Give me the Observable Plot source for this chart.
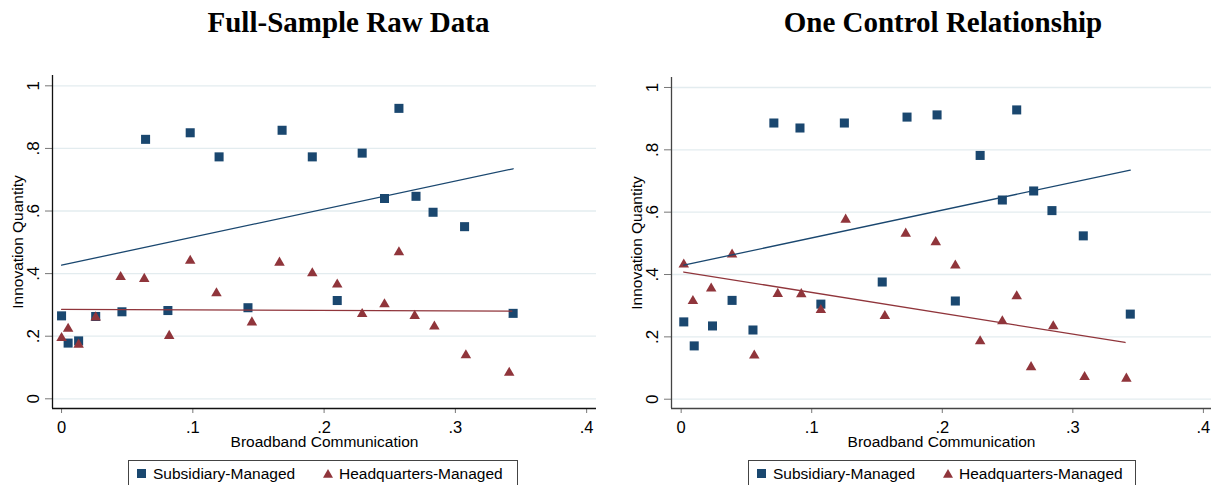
<!DOCTYPE html>
<html>
<head>
<meta charset="utf-8">
<script src="https://cdn.jsdelivr.net/npm/d3@7"></script>
<script src="https://cdn.jsdelivr.net/npm/@observablehq/plot@0.6"></script>
<style>
  html, body { margin: 0; padding: 0; background: #fff; }
  body { width: 1212px; height: 485px; overflow: hidden; position: relative; font-family: "Liberation Sans", Arial, sans-serif; }
  .panel { position: absolute; top: 0; }
  .title { position: absolute; top: 8px; width: 400px; text-align: center; font-family: "Liberation Serif", "Times New Roman", serif; font-weight: bold; font-size: 29px; line-height: 29px; color: #000; white-space: nowrap; }
  .legend { position: absolute; top: 460px; height: 40px; border: 1px solid #444; box-sizing: border-box; background: #fff; }
  .legend .lab { position: absolute; top: 5px; font-size: 15.5px; line-height: 15.5px; color: #000; white-space: nowrap; }
  .legend svg { position: absolute; overflow: visible; }
</style>
</head>
<body>
<div id="app"></div>
<script>
// ---------- shared labels ----------
const panelTitles = ["Full-Sample Raw Data", "One Control Relationship"];
const seriesNames = ["Subsidiary-Managed", "Headquarters-Managed"];
const xAxisTitle = "Broadband Communication";
const yAxisTitle = "Innovation Quantity";
const yTicks = [0, 0.2, 0.4, 0.6, 0.8, 1];
const yTickLabels = ["0", ".2", ".4", ".6", ".8", "1"];
const xTicks = [0, 0.1, 0.2, 0.3, 0.4];
const xTickLabels = ["0", ".1", ".2", ".3", ".4"];

// ---------- panel 1: Full-Sample Raw Data ----------
const rawSubX = [0.000, 0.005, 0.013, 0.026, 0.046, 0.064, 0.081, 0.098, 0.120, 0.142, 0.168, 0.191, 0.210, 0.229, 0.246, 0.257, 0.270, 0.283, 0.307, 0.344];
const rawSubY = [0.265, 0.178, 0.185, 0.263, 0.278, 0.829, 0.282, 0.850, 0.773, 0.291, 0.858, 0.773, 0.314, 0.785, 0.640, 0.928, 0.647, 0.596, 0.550, 0.273];
const rawHqX  = [0.000, 0.005, 0.013, 0.026, 0.045, 0.063, 0.082, 0.098, 0.118, 0.145, 0.166, 0.191, 0.210, 0.229, 0.246, 0.257, 0.269, 0.284, 0.308, 0.341];
const rawHqY  = [0.194, 0.224, 0.173, 0.260, 0.389, 0.383, 0.201, 0.441, 0.337, 0.244, 0.435, 0.401, 0.365, 0.271, 0.302, 0.468, 0.265, 0.231, 0.139, 0.083];
const rawSubFitX = [0.000, 0.344];
const rawSubFitY = [0.427, 0.735];
const rawHqFitX  = [0.000, 0.343];
const rawHqFitY  = [0.286, 0.280];

// ---------- panel 2: One Control Relationship ----------
const ctrlSubX = [0.002, 0.010, 0.024, 0.039, 0.055, 0.071, 0.091, 0.107, 0.125, 0.154, 0.173, 0.196, 0.210, 0.229, 0.246, 0.257, 0.270, 0.284, 0.308, 0.344];
const ctrlSubY = [0.248, 0.171, 0.235, 0.317, 0.222, 0.886, 0.870, 0.305, 0.886, 0.376, 0.905, 0.912, 0.315, 0.782, 0.639, 0.928, 0.668, 0.605, 0.524, 0.273];
const ctrlHqX  = [0.002, 0.009, 0.023, 0.039, 0.056, 0.074, 0.092, 0.107, 0.126, 0.156, 0.172, 0.195, 0.210, 0.229, 0.246, 0.257, 0.268, 0.285, 0.309, 0.341];
const ctrlHqY  = [0.432, 0.315, 0.355, 0.464, 0.140, 0.338, 0.337, 0.286, 0.576, 0.267, 0.531, 0.504, 0.429, 0.186, 0.250, 0.330, 0.103, 0.234, 0.071, 0.066];
const ctrlSubFitX = [0.002, 0.344];
const ctrlSubFitY = [0.430, 0.735];
const ctrlHqFitX  = [0.002, 0.340];
const ctrlHqFitY  = [0.408, 0.182];

// ---------- styling ----------
const NAVY = "#1a476f";
const MAROON = "#90353b";
const GRID = "#e3ecef";

function pts(xs, ys) { return xs.map((x, i) => ({x, y: ys[i]})); }

function panel(cfg) {
  const sub = pts(cfg.subX, cfg.subY);
  const hq = pts(cfg.hqX, cfg.hqY);
  const subFit = pts(cfg.subFitX, cfg.subFitY);
  const hqFit = pts(cfg.hqFitX, cfg.hqFitY);
  return Plot.plot({
    width: 606,
    height: 450,
    marginLeft: cfg.ml, marginRight: cfg.mr, marginTop: cfg.mt, marginBottom: cfg.mb,
    x: {domain: cfg.xDomain},
    y: {domain: cfg.yDomain},
    style: {fontFamily: "'Liberation Sans', Arial, sans-serif", fontSize: "15.5px", background: "transparent", overflow: "visible", color: "#000"},
    marks: [
      Plot.ruleY(yTicks, {y: d => d, stroke: GRID, strokeWidth: 1.3}),
      Plot.axisY(yTicks, {tickSize: 7, tickFormat: () => "", stroke: "#777", label: null}),
      Plot.axisX(xTicks, {tickSize: 5, tickFormat: () => "", stroke: "#777", label: null}),
      Plot.ruleX([cfg.xDomain[0]], {stroke: cfg.axisColor, strokeWidth: 1.3}),
      Plot.ruleY([cfg.yDomain[0]], {stroke: cfg.axisColor, strokeWidth: 1.3}),
      Plot.text(yTicks, {y: d => d, text: (d, i) => yTickLabels[i], frameAnchor: "left", rotate: -90, dx: -18.5, textAnchor: "middle", lineAnchor: "middle", fill: "#000", fontSize: 17}),
      Plot.text(xTicks, {x: d => d, text: (d, i) => xTickLabels[i], frameAnchor: "bottom", dy: 19, textAnchor: "middle", lineAnchor: "middle", fill: "#000", fontSize: 16.5}),
      Plot.text([yAxisTitle], {frameAnchor: "left", rotate: -90, dx: cfg.ytdx, textAnchor: "middle", lineAnchor: "middle", fill: "#000"}),
      Plot.text([xAxisTitle], {frameAnchor: "bottom", dy: 34, textAnchor: "middle", lineAnchor: "middle", fill: "#000"}),
      Plot.dot(sub, {x: "x", y: "y", symbol: "square", r: 5.1, fill: NAVY, stroke: "none"}),
      Plot.dot(hq, {x: "x", y: "y", symbol: "triangle", r: 3.9, fill: MAROON, stroke: "none"}),
      Plot.line(subFit, {x: "x", y: "y", stroke: NAVY, strokeWidth: 1.3}),
      Plot.line(hqFit, {x: "x", y: "y", stroke: MAROON, strokeWidth: 1.3})
    ]
  });
}

const app = document.getElementById("app");

const p1 = panel({
  subX: rawSubX, subY: rawSubY, hqX: rawHqX, hqY: rawHqY,
  subFitX: rawSubFitX, subFitY: rawSubFitY, hqFitX: rawHqFitX, hqFitY: rawHqFitY,
  ml: 52, mr: 10, mt: 75, mb: 42,
  xDomain: [-0.0069, 0.4075], yDomain: [-0.031, 1.033],
  axisColor: "#111", ytdx: -34.5
});
const p2 = panel({
  subX: ctrlSubX, subY: ctrlSubY, hqX: ctrlHqX, hqY: ctrlHqY,
  subFitX: ctrlSubFitX, subFitY: ctrlSubFitY, hqFitX: ctrlHqFitX, hqFitY: ctrlHqFitY,
  ml: 65, mr: 1, mt: 77, mb: 42,
  xDomain: [-0.0074, 0.4062], yDomain: [-0.0298, 1.032],
  axisColor: "#444", ytdx: -34
});

[p1, p2].forEach((p, k) => {
  const d = document.createElement("div");
  d.className = "panel";
  d.style.left = (k * 606) + "px";
  d.appendChild(p);
  app.appendChild(d);
});

// titles
[[148.5, panelTitles[0]], [743, panelTitles[1]]].forEach(([left, t]) => {
  const d = document.createElement("div");
  d.className = "title";
  d.style.left = left + "px";
  d.textContent = t;
  app.appendChild(d);
});

// legends
[[128, 390], [748, 388]].forEach(([left, w]) => {
  const box = document.createElement("div");
  box.className = "legend";
  box.style.left = left + "px";
  box.style.width = w + "px";
  box.innerHTML =
    `<svg style="left:8px;top:8px" width="9" height="9"><rect width="9" height="9" fill="${NAVY}"/></svg>` +
    `<span class="lab" style="left:24px">${seriesNames[0]}</span>` +
    `<svg style="left:194px;top:8px" width="10" height="9"><path d="M5,0L10,8.7L0,8.7Z" fill="${MAROON}"/></svg>` +
    `<span class="lab" style="left:210px">${seriesNames[1]}</span>`;
  app.appendChild(box);
});
</script>
</body>
</html>
